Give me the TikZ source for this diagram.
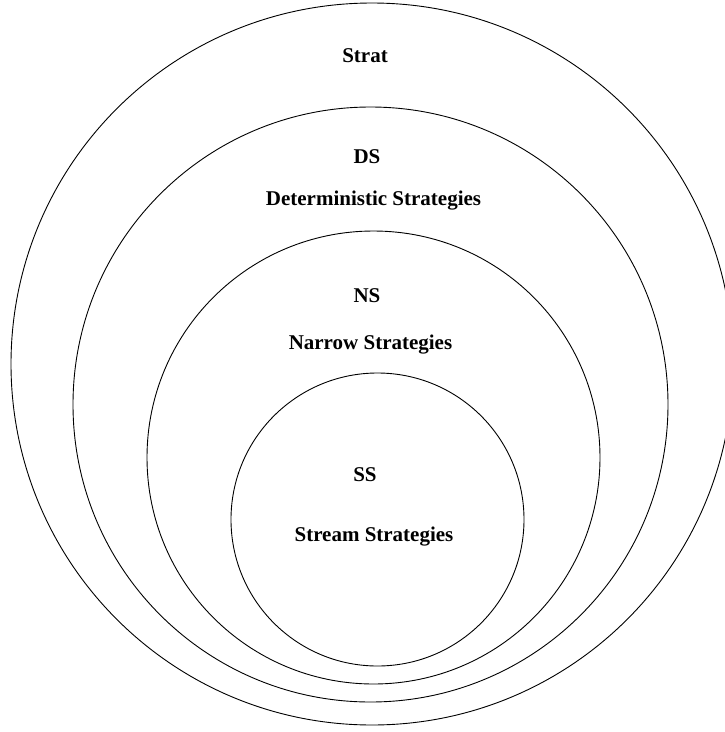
\documentclass[tikz,border=0pt]{standalone}
\usepackage{fontspec}
\setmainfont{Liberation Serif}
\begin{document}
\begin{tikzpicture}[x=1pt,y=-1pt,
  ring/.style={draw=black,line width=0.9pt,circle,inner sep=0pt},
  lbl/.style={anchor=base,inner sep=0pt,font=\fontsize{21}{25}\selectfont\bfseries}]
\useasboundingbox (0,0) rectangle (725,732);
\node[ring,minimum size=722pt] (strat) at (372,364) {};
\node[ring,minimum size=595pt] (ds) at (370.5,404.5) {};
\node[ring,minimum size=453pt] (ns) at (373.5,457.5) {};
\node[ring,minimum size=293pt] (ss) at (377.5,519.5) {};
\node[lbl] (tstrat) at (365,62) {Strat};
\node[lbl] (tds) at (367,163) {DS};
\node[lbl] (tdsl) at (373.5,205) {Deterministic Strategies};
\node[lbl] (tns) at (367,302) {NS};
\node[lbl] (tnsl) at (370.5,349) {Narrow Strategies};
\node[lbl] (tss) at (365,481) {SS};
\node[lbl] (tssl) at (374,541) {Stream Strategies};
\end{tikzpicture}
\end{document}
